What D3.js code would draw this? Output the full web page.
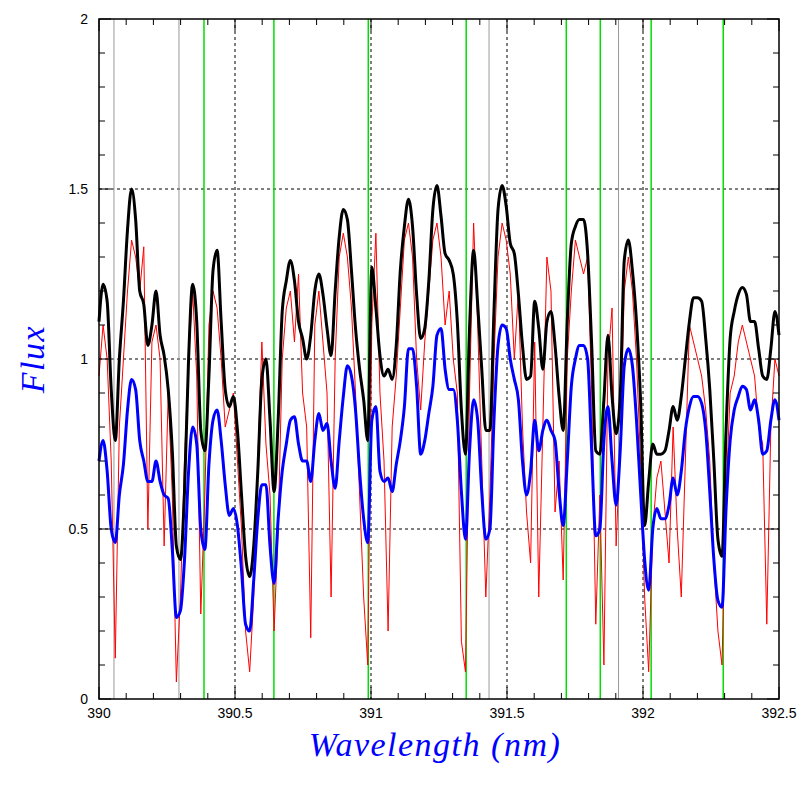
<!DOCTYPE html>
<html>
<head>
<meta charset="utf-8">
<script src="https://cdn.jsdelivr.net/npm/d3@7"></script>
<style>
  body { margin: 0; background: #fff; }
  .tick-label { font-family: "Liberation Sans", Arial, sans-serif; }
  .axis-title { font-family: "Liberation Serif", serif; font-style: italic; }
</style>
</head>
<body>
<div id="chart"></div>
<script>
// spectra sampled on a regular wavelength grid 390 .. 392.5 nm
const blackFlux = [1.11,1.22,1.17,0.91,0.76,1.0,1.17,1.38,1.5,1.41,1.2,1.16,1.04,1.1,1.2,1.07,1.01,0.91,0.73,0.45,0.41,0.61,1.0,1.22,1.11,0.79,0.73,0.95,1.26,1.32,1.11,0.91,0.86,0.89,0.79,0.6,0.42,0.36,0.45,0.67,0.94,1.0,0.82,0.61,0.82,1.14,1.23,1.29,1.23,1.11,1.06,1.0,1.07,1.2,1.25,1.19,1.09,1.01,1.2,1.36,1.44,1.41,1.26,1.09,0.97,0.88,0.76,1.27,1.15,1.01,0.95,0.97,0.94,1.04,1.26,1.39,1.47,1.39,1.19,1.06,1.09,1.23,1.44,1.51,1.42,1.31,1.29,1.25,1.11,0.85,0.72,1.09,1.32,1.16,0.97,0.79,0.79,1.14,1.44,1.51,1.45,1.34,1.31,1.19,1.04,0.94,0.95,1.17,1.09,0.97,1.11,1.14,1.04,0.89,0.79,1.11,1.34,1.39,1.41,1.41,1.31,1.04,0.73,0.72,0.88,1.07,0.89,0.78,0.89,1.29,1.35,1.26,1.11,0.88,0.51,0.64,0.75,0.72,0.72,0.73,0.79,0.86,0.82,0.89,1.0,1.11,1.18,1.18,1.17,1.06,0.91,0.7,0.47,0.42,0.79,1.06,1.14,1.19,1.21,1.19,1.11,1.11,1.03,0.95,0.94,1.03,1.14,1.07];
const blueFlux = [0.7,0.76,0.67,0.5,0.46,0.6,0.69,0.85,0.94,0.91,0.76,0.7,0.64,0.64,0.7,0.64,0.6,0.59,0.44,0.24,0.26,0.41,0.67,0.8,0.75,0.5,0.44,0.69,0.82,0.85,0.76,0.63,0.54,0.56,0.51,0.38,0.22,0.2,0.35,0.53,0.63,0.63,0.45,0.34,0.53,0.67,0.75,0.82,0.83,0.75,0.7,0.7,0.64,0.76,0.84,0.79,0.81,0.7,0.62,0.76,0.89,0.98,0.95,0.85,0.67,0.53,0.46,0.82,0.86,0.67,0.64,0.65,0.61,0.69,0.76,0.86,1.03,1.03,0.92,0.72,0.76,0.84,0.92,1.07,1.09,0.97,0.91,0.91,0.82,0.61,0.47,0.73,0.88,0.82,0.61,0.47,0.5,0.82,1.04,1.1,1.09,1.0,0.94,0.88,0.7,0.6,0.67,0.82,0.73,0.79,0.82,0.79,0.76,0.61,0.51,0.7,0.92,1.0,1.04,1.04,1.0,0.73,0.48,0.5,0.76,0.86,0.7,0.57,0.73,0.98,1.03,0.98,0.82,0.61,0.41,0.32,0.5,0.56,0.53,0.53,0.57,0.65,0.6,0.67,0.79,0.86,0.89,0.89,0.87,0.79,0.61,0.41,0.29,0.27,0.56,0.76,0.85,0.89,0.92,0.91,0.85,0.88,0.82,0.72,0.73,0.82,0.88,0.82];
const redFlux = [0.95,1.1,1.0,0.7,0.12,0.8,1.0,1.2,1.35,1.3,1.2,1.33,0.5,1.05,1.1,1.0,0.45,0.9,0.6,0.05,0.3,0.7,1.0,1.2,0.95,0.25,0.6,1.1,1.2,1.15,1.0,0.8,0.85,0.9,0.7,0.5,0.2,0.08,0.3,0.7,1.05,0.75,0.6,0.2,0.5,1.0,1.15,1.2,1.05,1.25,0.9,0.8,0.18,1.1,1.2,1.05,0.9,0.3,1.0,1.3,1.37,1.3,1.15,0.9,0.6,0.3,0.1,1.1,1.37,0.9,0.7,0.2,0.8,0.95,1.15,1.35,1.4,1.3,1.0,0.85,1.05,1.2,1.35,1.4,1.3,1.1,1.2,1.0,0.9,0.17,0.08,0.9,1.4,1.1,0.7,0.3,0.6,1.0,1.3,1.4,1.35,1.25,1.0,1.2,0.8,0.55,0.4,1.05,0.3,0.8,1.3,1.2,0.55,0.7,0.35,1.0,1.2,1.35,1.3,1.25,1.3,0.9,0.22,0.6,0.1,1.0,1.15,0.45,0.75,1.2,1.3,1.2,1.0,0.7,0.3,0.08,0.5,0.65,0.7,0.55,0.4,0.8,0.5,0.3,0.7,1.1,1.05,1.0,0.95,0.85,0.7,0.4,0.2,0.1,0.6,0.9,0.95,1.05,1.1,1.05,1.0,0.95,0.8,0.75,0.22,0.8,1.0,0.95];
const wlStart = 390, wlEnd = 392.5;
const greenLines = [390.386, 390.643, 390.99, 391.35, 391.718, 391.843, 392.03, 392.295];
const grayLines = [390.055, 390.294, 391.434, 391.91];
const xTicks = [390, 390.5, 391, 391.5, 392, 392.5];
const yTicks = [0, 0.5, 1, 1.5, 2];

const W = 797, H = 797;
const m = { left: 99, right: 18, top: 19, bottom: 98 };
const iw = W - m.left - m.right, ih = H - m.top - m.bottom;

const svg = d3.select("#chart").append("svg").attr("width", W).attr("height", H);
const g = svg.append("g").attr("transform", `translate(${m.left},${m.top})`);

const x = d3.scaleLinear().domain([wlStart, wlEnd]).range([0, iw]);
const y = d3.scaleLinear().domain([0, 2]).range([ih, 0]);

const n = blackFlux.length;
const wl = i => wlStart + i * (wlEnd - wlStart) / (n - 1);

// dotted grid
g.selectAll(".gx").data(xTicks.slice(1, -1)).enter().append("line")
  .attr("x1", d => x(d)).attr("x2", d => x(d)).attr("y1", 0).attr("y2", ih)
  .attr("stroke", "#000").attr("stroke-width", 1).attr("stroke-dasharray", "3,3");
g.selectAll(".gy").data(yTicks.slice(1, -1)).enter().append("line")
  .attr("y1", d => y(d)).attr("y2", d => y(d)).attr("x1", 0).attr("x2", iw)
  .attr("stroke", "#000").attr("stroke-width", 1).attr("stroke-dasharray", "3,3");

// line markers
g.selectAll(".gray").data(grayLines).enter().append("line")
  .attr("x1", d => x(d)).attr("x2", d => x(d)).attr("y1", 0).attr("y2", ih)
  .attr("stroke", "#999").attr("stroke-width", 1);
g.selectAll(".green").data(greenLines).enter().append("line")
  .attr("x1", d => x(d)).attr("x2", d => x(d)).attr("y1", 0).attr("y2", ih)
  .attr("stroke", "#00dd00").attr("stroke-width", 1.5);

const line = d3.line().x(d => x(d[0])).y(d => y(d[1]));
const pts = arr => arr.map((v, i) => [wl(i), v]);

g.append("path").datum(pts(redFlux))
  .attr("d", line.curve(d3.curveLinear)).attr("fill", "none")
  .attr("stroke", "#ff0000").attr("stroke-width", 1);
g.append("path").datum(pts(blackFlux))
  .attr("d", line.curve(d3.curveMonotoneX)).attr("fill", "none")
  .attr("stroke", "#000").attr("stroke-width", 3);
g.append("path").datum(pts(blueFlux))
  .attr("d", line.curve(d3.curveMonotoneX)).attr("fill", "none")
  .attr("stroke", "#0000ff").attr("stroke-width", 3);

// frame and inward ticks
g.append("rect").attr("width", iw).attr("height", ih)
  .attr("fill", "none").attr("stroke", "#000").attr("stroke-width", 1.5);

const xMinor = d3.range(0, 26).map(i => wlStart + i * 0.1);
const yMinor = d3.range(0, 21).map(i => i * 0.1);
const isMajor = v => Math.abs(v * 2 - Math.round(v * 2)) < 1e-6;

xMinor.forEach(v => {
  const L = isMajor(v) ? 12 : 6;
  g.append("line").attr("x1", x(v)).attr("x2", x(v)).attr("y1", ih).attr("y2", ih - L).attr("stroke", "#000");
  g.append("line").attr("x1", x(v)).attr("x2", x(v)).attr("y1", 0).attr("y2", L).attr("stroke", "#000");
});
yMinor.forEach(v => {
  const L = isMajor(v) ? 12 : 6;
  g.append("line").attr("y1", y(v)).attr("y2", y(v)).attr("x1", 0).attr("x2", L).attr("stroke", "#000");
  g.append("line").attr("y1", y(v)).attr("y2", y(v)).attr("x1", iw).attr("x2", iw - L).attr("stroke", "#000");
});

g.selectAll(".xl").data(xTicks).enter().append("text").attr("class", "tick-label")
  .attr("x", d => x(d)).attr("y", ih + 19).attr("text-anchor", "middle")
  .attr("font-size", 14).text(d => d);
g.selectAll(".yl").data(yTicks).enter().append("text").attr("class", "tick-label")
  .attr("x", -11).attr("y", d => y(d) + 5).attr("text-anchor", "end")
  .attr("font-size", 14).text(d => d);

svg.append("text").attr("class", "axis-title")
  .attr("x", m.left + iw / 2 - 4).attr("y", 756).attr("text-anchor", "middle")
  .attr("font-size", 34).attr("letter-spacing", 1.5).attr("fill", "#0000ff").text("Wavelength (nm)");
svg.append("text").attr("class", "axis-title")
  .attr("transform", `translate(44,${m.top + ih / 2}) rotate(-90)`)
  .attr("text-anchor", "middle")
  .attr("font-size", 34).attr("letter-spacing", 1.5).attr("fill", "#0000ff").text("Flux");
</script>
</body>
</html>
